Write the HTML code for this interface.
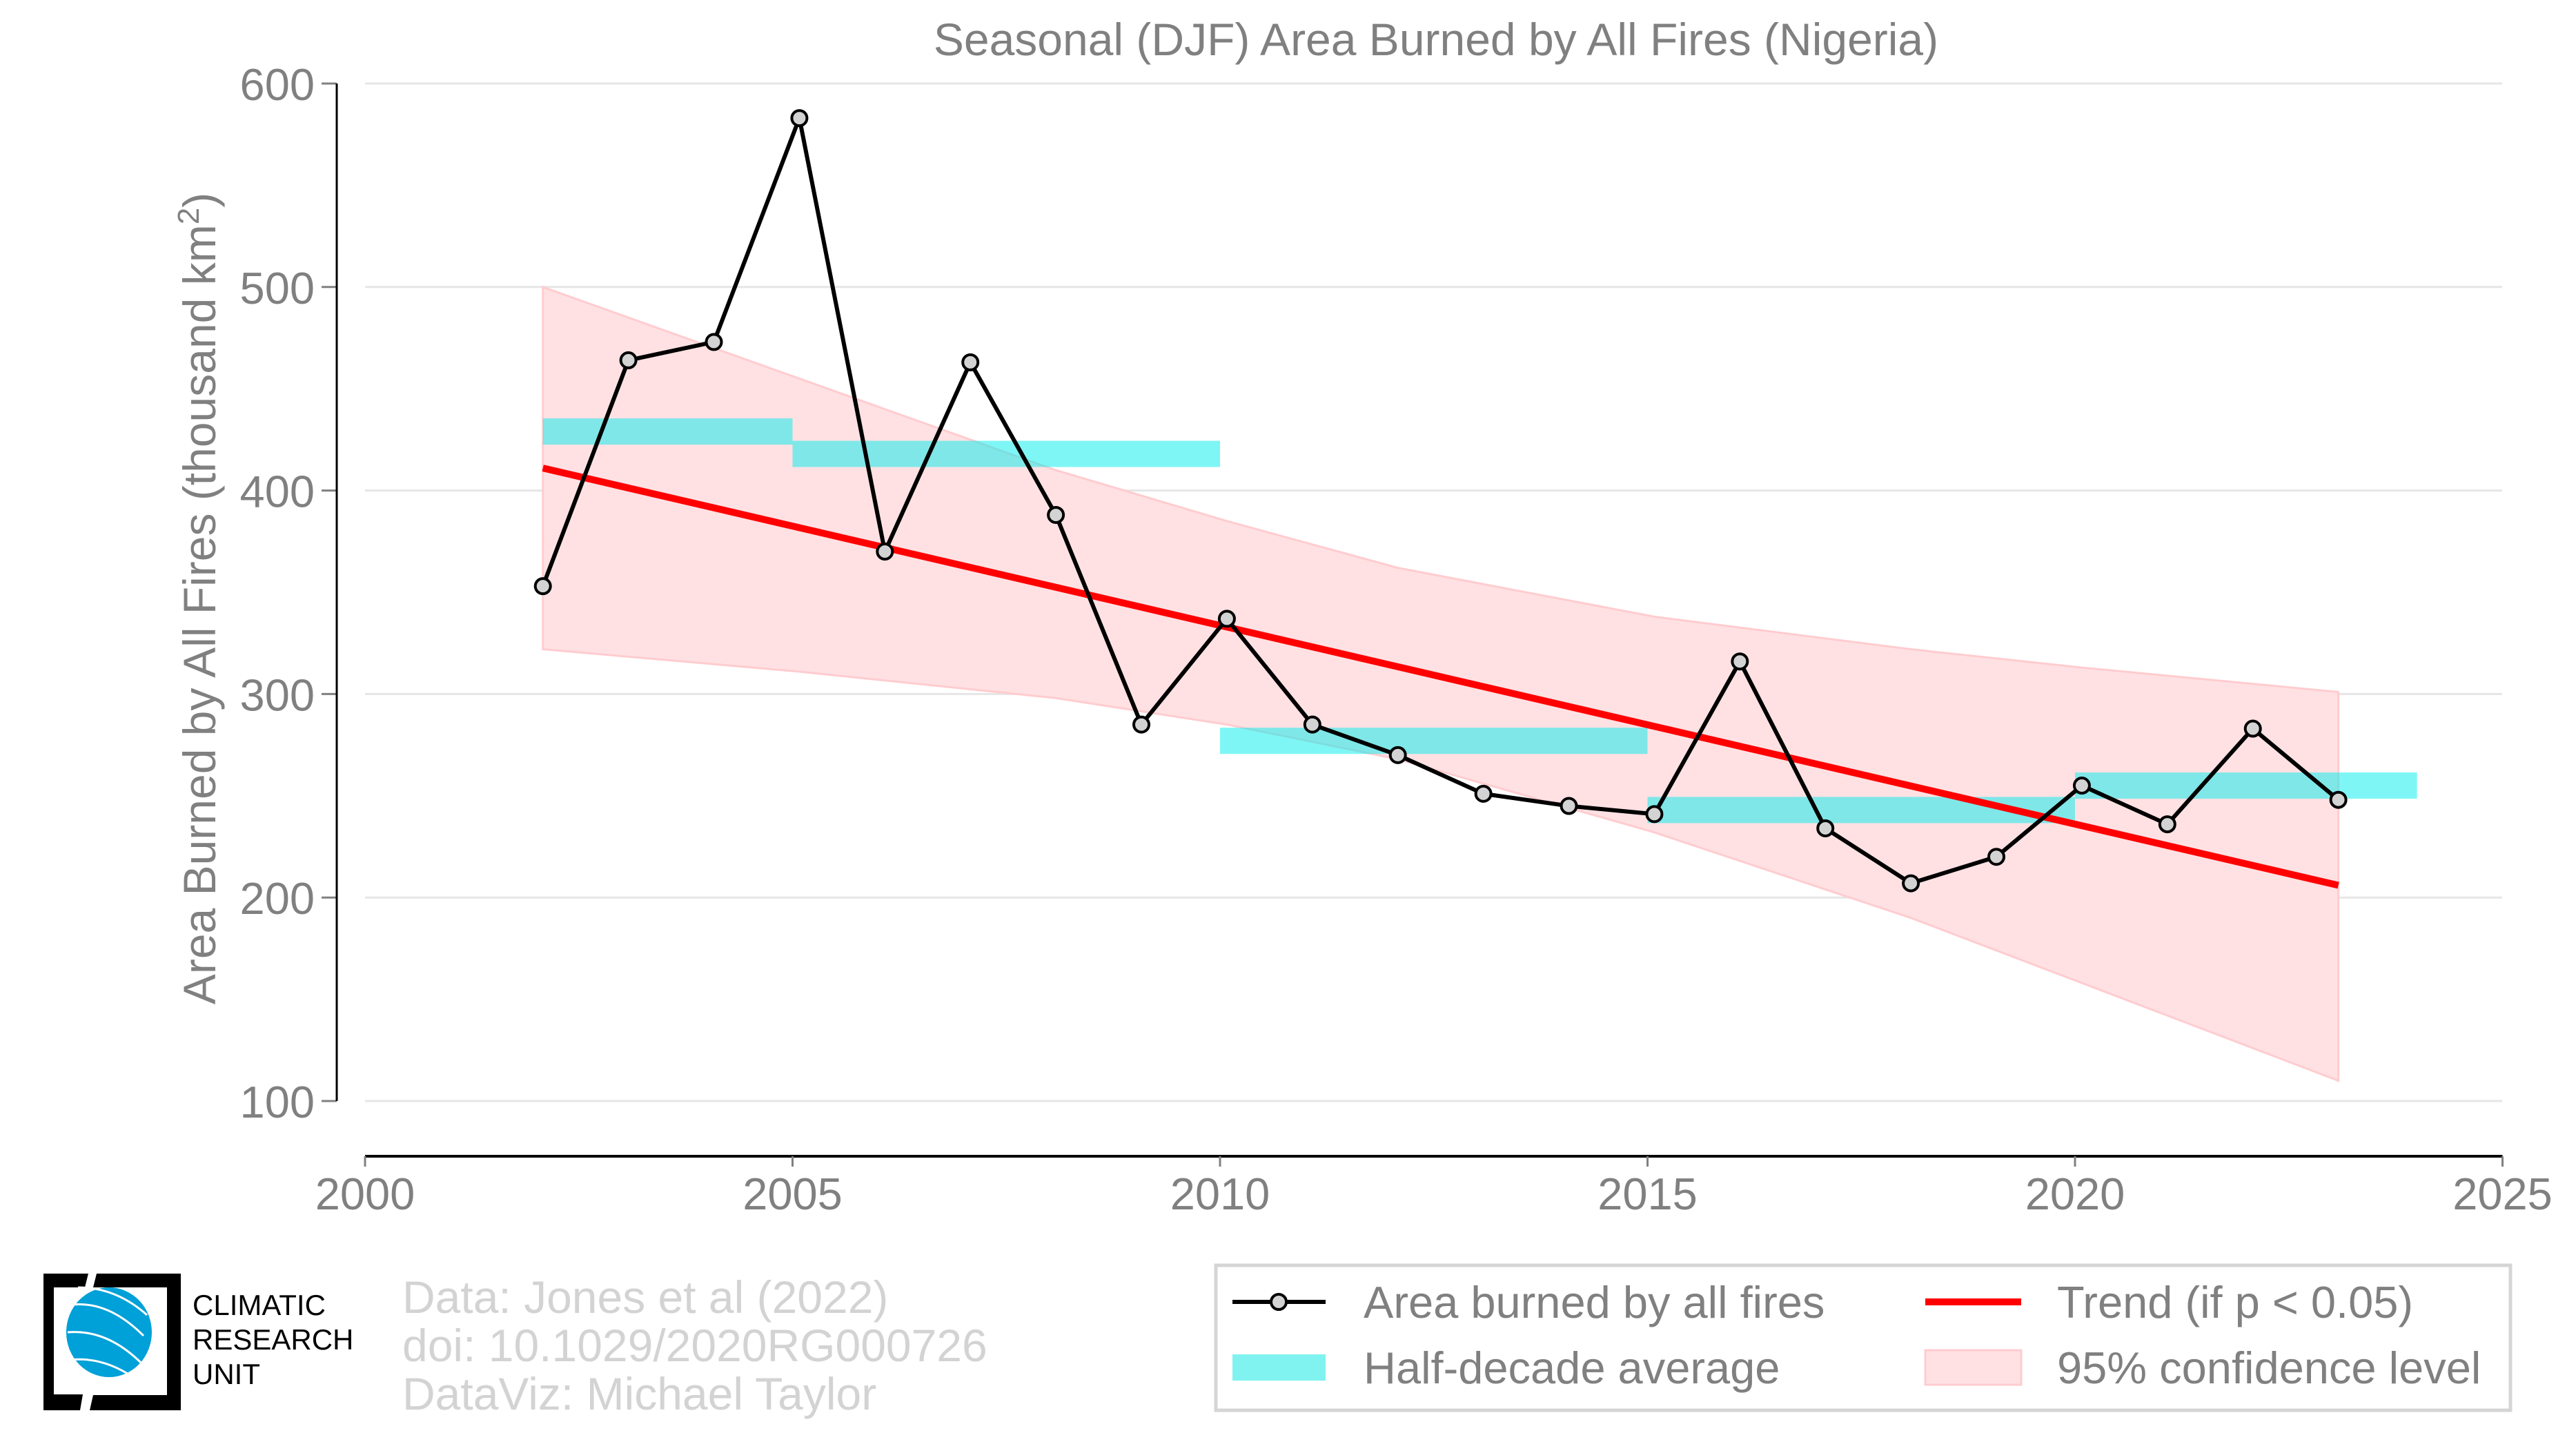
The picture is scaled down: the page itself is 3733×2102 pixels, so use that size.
<!DOCTYPE html>
<html><head><meta charset="utf-8"><style>
html,body{margin:0;padding:0;background:#fff;}
svg{display:block;font-family:"Liberation Sans",sans-serif;}
</style></head><body>
<svg id="chart" width="3733" height="2102" viewBox="0 0 3733 2102" xmlns="http://www.w3.org/2000/svg">
<text x="2081" y="80" font-size="66" fill="#808080" text-anchor="middle">Seasonal (DJF) Area Burned by All Fires (Nigeria)</text>
<text transform="translate(312,867) rotate(-90)" font-size="66" fill="#808080" text-anchor="middle">Area Burned by All Fires (thousand km<tspan dy="-24" font-size="44">2</tspan><tspan dy="24">)</tspan></text>
<g id="grid"></g>
<g id="ci"></g>
<g id="bars"></g>
<g id="trend"></g>
<g id="series"></g>
<g id="axes"></g>

<g>
<rect x="1762" y="1833" width="1876" height="210" fill="#fff" stroke="#d5d5d5" stroke-width="5"/>
<g>
<line x1="1786" y1="1886" x2="1921" y2="1886" stroke="#000" stroke-width="6"/>
<circle cx="1853" cy="1886" r="11" fill="#d3d3d3" stroke="#000" stroke-width="4"/>
<text x="1976" y="1909" font-size="65" fill="#808080">Area burned by all fires</text></g>
<g>
<rect x="1786" y="1962" width="135" height="38" fill="#80f3f0"/>
<text x="1976" y="2004" font-size="65" fill="#808080">Half-decade average</text></g>
<g>
<line x1="2790" y1="1886" x2="2929" y2="1886" stroke="#ff0000" stroke-width="10"/>
<text x="2981" y="1909" font-size="65" fill="#808080">Trend (if p &lt; 0.05)</text></g>
<g>
<rect x="2790" y="1956" width="139" height="50" fill="#ffe1e3" stroke="#ffcccf" stroke-width="3"/>
<text x="2981" y="2004" font-size="65" fill="#808080">95% confidence level</text></g>
</g>

<g font-size="66" fill="#d3d3d3">
<text x="583" y="1902">Data: Jones et al (2022)</text>
<text x="583" y="1972">doi: 10.1029/2020RG000726</text>
<text x="583" y="2042">DataViz: Michael Taylor</text>
</g>

<g>
<path d="M63 1845 H128 L123 1865 H78 V2020 H120 L116 2043 H63 Z" fill="#000"/>
<path d="M140 1845 H262 V2043 H130 L135 2021 H242 V1865 H135 Z" fill="#000"/>
<ellipse cx="158" cy="1930" rx="62" ry="65" fill="#00a0d8"/>
<path d="M106 1890 Q158 1885 208 1935 M98 1930 Q158 1925 210 1980 M103 1970 Q148 1965 193 1995 M113 1865 Q168 1865 213 1905" stroke="#fff" stroke-width="3" fill="none"/>
<text x="279" y="1905" font-size="42" fill="#000">CLIMATIC</text>
<text x="279" y="1955" font-size="42" fill="#000">RESEARCH</text>
<text x="279" y="2005" font-size="42" fill="#000">UNIT</text>
</g>
</svg>
<script>
const years = [2002,2003,2004,2005,2006,2007,2008,2009,2010,2011,2012,2013,2014,2015,2016,2017,2018,2019,2020,2021,2022,2023];
const burned = [353,464,473,583,370,463,388,285,337,285,270,251,245,241,316,234,207,220,255,236,283,248];
const halfStart = [2002,2005,2010,2015,2020];
const halfEnd = [2005,2010,2015,2020,2024];
const halfAvg = [429,418,277,243,255];
const trendYears = [2002,2023];
const trendVals = [411,206];
const ciYears = [2002,2005,2008,2010,2012,2015,2018,2020,2023];
const ciUpper = [500,455,410,385,362,338,322,313,301];
const ciLower = [322,311,298,285,268,232,190,158,110];
const yTicks = [100,200,300,400,500,600];
const xTicks = [2000,2005,2010,2015,2020,2025];

const NS="http://www.w3.org/2000/svg";
const X = v => 529 + (v-2000)*123.9;
const Y = v => 121 + (600-v)*2.948;
const OFF = 0.08;
function mk(tag, attrs, parent){const e=document.createElementNS(NS,tag);for(const k in attrs)e.setAttribute(k,attrs[k]);parent.appendChild(e);return e;}
const g = id => document.getElementById(id);

yTicks.forEach(t=>{
  const l=mk('line',{x1:529,x2:3626,y1:Y(t),y2:Y(t),stroke:'#e6e6e6','stroke-width':3},g('grid'));
  
  
  const tk=mk('line',{x1:466,x2:488,y1:Y(t),y2:Y(t),stroke:'#808080','stroke-width':3},g('axes'));
  
  
  const tx=mk('text',{x:456,y:Y(t)+24,'font-size':65,fill:'#808080','text-anchor':'end'},g('axes'));
  tx.textContent=t;
  
  
});
const ys=mk('line',{x1:488,x2:488,y1:Y(600),y2:Y(100),stroke:'#000','stroke-width':3},g('axes'));


const xs=mk('line',{x1:X(2000),x2:X(2025),y1:1675,y2:1675,stroke:'#000','stroke-width':4},g('axes'));


xTicks.forEach(t=>{
  const tk=mk('line',{x1:X(t),x2:X(t),y1:1675,y2:1690,stroke:'#808080','stroke-width':3},g('axes'));
  
  
  const tx=mk('text',{x:X(t),y:1752,'font-size':65,fill:'#808080','text-anchor':'middle'},g('axes'));
  tx.textContent=t;
  
  
});
let pts=[];
ciYears.forEach((yv,i)=>pts.push(X(yv+OFF)+','+Y(ciUpper[i])));
for(let i=ciYears.length-1;i>=0;i--)pts.push(X(ciYears[i]+OFF)+','+Y(ciLower[i]));
const band=mk('polygon',{points:pts.join(' '),fill:'#ffe1e3',stroke:'#ffcccf','stroke-width':3},g('ci'));


halfAvg.forEach((v,i)=>{
  const x0=X(halfStart[i]+(i===0?OFF:0));
  const r=mk('rect',{x:x0,width:X(halfEnd[i])-x0,y:Y(v)-19,height:38,fill:'#00eeee','fill-opacity':0.5},g('bars'));
  
  
});
const tl=mk('line',{x1:X(trendYears[0]+OFF),y1:Y(trendVals[0]),x2:X(trendYears[1]+OFF),y2:Y(trendVals[1]),stroke:'#ff0000','stroke-width':10},g('trend'));


const pl=mk('polyline',{points:years.map((yv,i)=>X(yv+OFF)+','+Y(burned[i])).join(' '),fill:'none',stroke:'#000','stroke-width':6,'stroke-linejoin':'round'},g('series'));


years.forEach((yv,i)=>{
  const c=mk('circle',{cx:X(yv+OFF),cy:Y(burned[i]),r:11,fill:'#d3d3d3',stroke:'#000','stroke-width':4},g('series'));
  
  
});
</script>
</body></html>
